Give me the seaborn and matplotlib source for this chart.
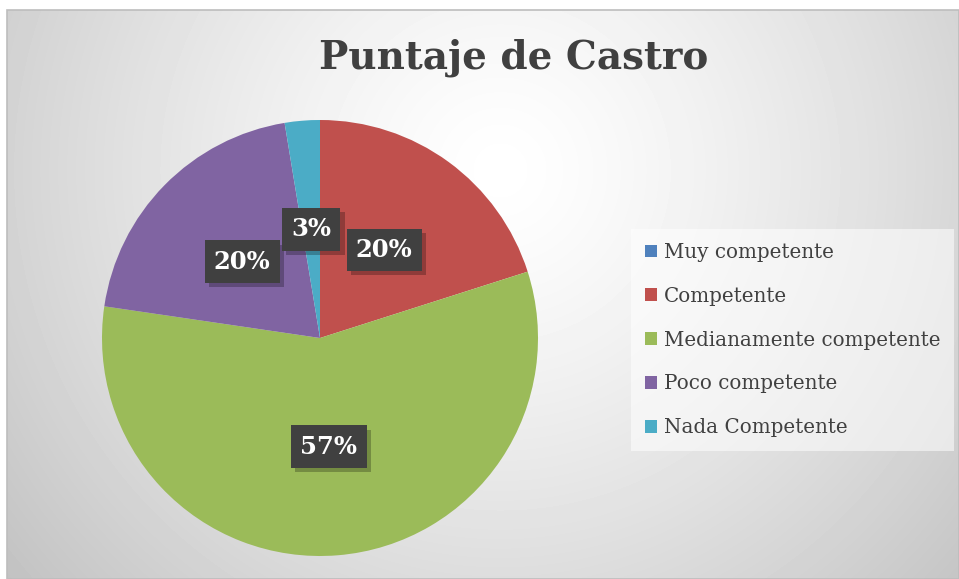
import numpy as np
import seaborn as sns
import matplotlib
matplotlib.use("Agg")
import matplotlib.pyplot as plt
import matplotlib.patheffects as pe
from matplotlib.patches import Patch, Rectangle

# data (percent of respondents)
categories = ["Muy competente", "Competente", "Medianamente competente",
              "Poco competente", "Nada Competente"]
percentages = [0, 20.1, 57.3, 20.1, 2.6]
colors = ["#4F81BD", "#C0504D", "#9BBB59", "#8064A2", "#4BACC6"]
title = "Puntaje de Castro"

sns.set_theme(style="white")
plt.rcParams["font.family"] = ["DejaVu Serif", "DejaVu Sans"]

W, H = 959, 579
fig = plt.figure(figsize=(W / 100, H / 100), dpi=100)
fig.patch.set_facecolor("white")

# chart-area background: soft radial gradient, white in the upper middle
bg = fig.add_axes([0, 0, 1, 1], zorder=0)
bg.set_xlim(0, W); bg.set_ylim(H, 0); bg.axis("off")
yy, xx = np.mgrid[0:H, 0:W]
d = np.hypot(xx - 500, yy - 170) / 640.0
grad = 1.0 - 0.24 * np.clip(d, 0, 1) ** 1.3
img = np.where((xx >= 7) & (yy >= 10), grad, 1.0)
bg.imshow(img, cmap="gray", vmin=0, vmax=1, extent=(0, W, H, 0), interpolation="bilinear")
bg.add_patch(Rectangle((7, 10), W - 7, H - 10, fill=False, ec="#bdbdbd", lw=1.2))

# pie: centre (320, 338) px, radius 218 px
r, cx, cy = 218, 320, 338
ax = fig.add_axes([(cx - r) / W, (H - cy - r) / H, 2 * r / W, 2 * r / H], zorder=1)
wedges, _, autotexts = ax.pie(
    percentages, colors=colors, startangle=90, counterclock=False,
    autopct=lambda p: f"{p:.0f}%" if p > 0.5 else "", pctdistance=0.5,
    wedgeprops=dict(linewidth=0), radius=1)
ax.set_xlim(-1, 1); ax.set_ylim(-1, 1); ax.set_aspect("equal")

for t in autotexts:
    if not t.get_text():
        continue
    t.set_color("white"); t.set_fontsize(17.5); t.set_fontweight("bold")
    t.set_bbox(dict(boxstyle="square,pad=0.38", fc="#404040", ec="none", lw=0))
    t.get_bbox_patch().set_path_effects(
        [pe.withSimplePatchShadow(offset=(3, -3), shadow_rgbFace="black", alpha=0.25),
         pe.Normal()])

fig.text(514 / W, 1 - 58 / H, title, ha="center", va="center",
         fontsize=28, fontweight="bold", color="#404040")

handles = [Patch(facecolor=c, edgecolor="none") for c in colors]
leg = fig.legend(handles, categories, loc="upper left",
                 bbox_to_anchor=(631 / W, 1 - 229 / H), frameon=True,
                 fontsize=14.3, labelcolor="#404040", handlelength=0.6,
                 handleheight=0.6, handletextpad=0.35, labelspacing=1.25,
                 borderpad=0.7, borderaxespad=0, fancybox=False)
leg.get_frame().set_facecolor("white"); leg.get_frame().set_alpha(0.55)
leg.get_frame().set_edgecolor("none")

fig.savefig("out.png", dpi=100)
